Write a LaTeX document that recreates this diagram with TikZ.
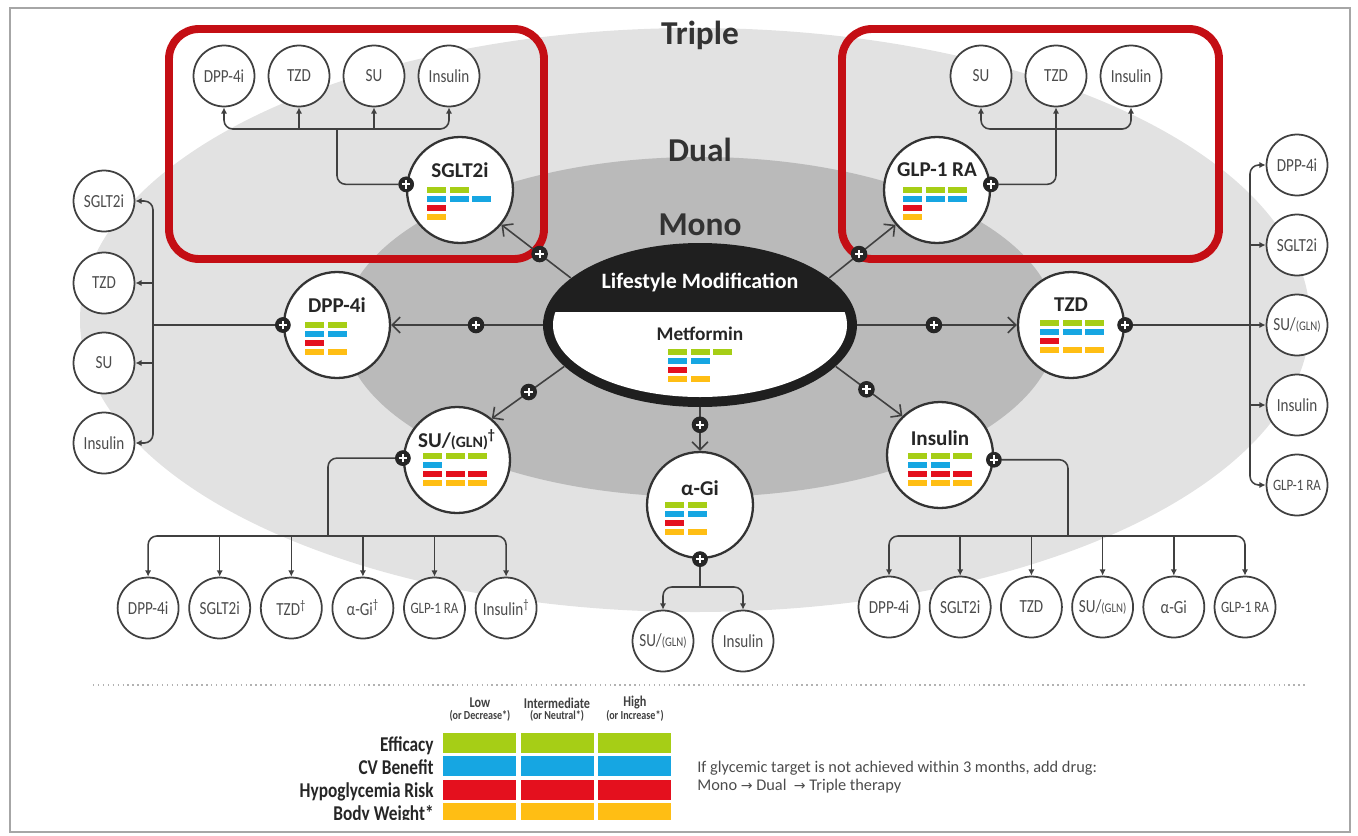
\documentclass[tikz,border=0pt]{standalone}
\usepackage{fontspec}
\setmainfont{Carlito}
\newfontfamily\narrowfont[FakeStretch=0.82]{Carlito}
\newfontfamily\arrowfont{DejaVu Sans}
\usetikzlibrary{shapes.geometric, arrows.meta, calc}

\definecolor{ringlight}{RGB}{226,226,226}
\definecolor{ringmid}{RGB}{186,186,186}
\definecolor{boxred}{RGB}{196,14,20}
\definecolor{effgreen}{RGB}{166,206,22}
\definecolor{cvblue}{RGB}{22,166,226}
\definecolor{hypored}{RGB}{228,16,30}
\definecolor{bwyellow}{RGB}{255,190,20}

% rating bars: x, y, efficacy, cv, hypo, weight
\newcommand{\ratebars}[6]{%
  \foreach \n/\col [count=\r from 0] in {#3/effgreen,#4/cvblue,#5/hypored,#6/bwyellow}
    \foreach \c in {1,...,\n}
      \fill[\col] ({#1+22.5*(\c-1)},{#2+9*\r}) rectangle ++(19,5.5);
}
\newcommand{\sugln}[1]{SU/{\fontsize{#1}{#1}\selectfont(GLN)}}

\tikzset{
  mono/.style={circle, draw=black!80, line width=1.3pt, fill=white, minimum size=2.12cm, inner sep=0pt},
  monolab/.style={font=\bfseries\fontsize{12}{13}\selectfont, text=black!85, inner sep=1pt},
  opt/.style={circle, draw=black!75, line width=1pt, fill=white, minimum size=1.22cm, inner sep=0pt,
    text=black!70, font=\narrowfont\fontsize{10.5}{11}\selectfont},
  plus/.style={circle, fill=black!85, draw=black!85, minimum size=0.3cm, inner sep=0pt,
    path picture={\draw[white, line width=1.2pt, -, sharp corners]
      ([xshift=-0.085cm]path picture bounding box.center) -- ([xshift=0.085cm]path picture bounding box.center)
      ([yshift=-0.085cm]path picture bounding box.center) -- ([yshift=0.085cm]path picture bounding box.center);}},
  link/.style={draw=black!75, line width=0.9pt, rounded corners=5pt},
  branch/.style={link, -{Latex[length=3.5pt,width=3.5pt]}},
  monoarrow/.style={link, -{Straight Barb[length=4.5pt,width=9pt]}},
  tier/.style={font=\bfseries\fontsize{19}{20}\selectfont, text=black!80},
  redbox/.style={draw=boxred, line width=4.5pt, rounded corners=0.6cm},
  lifeshape/.style={ellipse, fill=black!88, minimum width=6.28cm, minimum height=3.28cm, inner sep=0pt},
  hdr/.style={font=\narrowfont\bfseries\fontsize{8.5}{9}\selectfont, text=black!75, inner sep=0pt},
  hdrsub/.style={font=\narrowfont\bfseries\fontsize{7}{7}\selectfont, text=black!75, inner sep=0pt},
  rowlab/.style={font=\narrowfont\bfseries\fontsize{12}{13}\selectfont, text=black!85, anchor=base east, inner sep=0pt},
  note/.style={font=\fontsize{9.3}{11}\selectfont, text=black!70, anchor=base west, inner sep=0pt},
}

\begin{document}
\begin{tikzpicture}[x=0.02cm, y=-0.02cm]
\useasboundingbox (0,0) rectangle (1358,835);

% frame and rings
\draw[black!35, line width=1.2pt] (10,8) rectangle (1350,832);
\fill[ringlight] (695,320) ellipse [x radius=615, y radius=292];
\fill[ringmid] (700,327) ellipse [x radius=357, y radius=170];

\node[tier] (tierT) at (700,35) {Triple};
\node[tier] (tierD) at (700,150) {Dual};
\node[tier] (tierM) at (700,225) {Mono};

% red frames
\draw[redbox] (169,29) rectangle (544,259);
\draw[redbox] (842,29) rectangle (1219,259);

% lifestyle / metformin
\node[lifeshape] (life) at (700,325) {};
\begin{scope}
  \clip (543,312) rectangle (857,410);
  \fill[white] (700,325) ellipse [x radius=147, y radius=72];
\end{scope}
\node[font=\bfseries\fontsize{12.5}{13}\selectfont, text=white] (lifeT) at (700,283) {Lifestyle Modification};
\node[monolab, font=\bfseries\fontsize{11}{12}\selectfont] (metT) at (700,334) {Metformin};
\ratebars{668}{349}{3}{2}{1}{2}

% mono drugs
\node[mono] (sglt) at (460,190) {};
\node[monolab] (sgltT) at (460,170) {SGLT2i};
\ratebars{427}{187}{2}{3}{1}{1}

\node[mono] (glp) at (937,190) {};
\node[monolab] (glpT) at (937,170) {GLP-1 RA};
\ratebars{903}{187}{3}{3}{1}{1}

\node[mono] (dpp) at (337,325) {};
\node[monolab] (dppT) at (337,305) {DPP-4i};
\ratebars{305}{322}{2}{2}{1}{2}

\node[mono] (tzd) at (1071,325) {};
\node[monolab] (tzdT) at (1071,305) {TZD};
\ratebars{1040}{320}{3}{3}{1}{3}

\node[mono] (su) at (457,460) {};
\node[monolab] (suT) at (457,440) {\sugln{9}\textsuperscript{†}};
\ratebars{423}{453}{3}{1}{3}{3}

\node[mono] (agi) at (700,505) {};
\node[monolab] (agiT) at (700,488) {α-Gi};
\ratebars{665}{502}{2}{2}{1}{2}

\node[mono] (ins) at (940,455) {};
\node[monolab] (insT) at (940,438) {Insulin};
\ratebars{908}{453}{3}{2}{3}{3}

% add-on drugs
\foreach \lab [count=\i] in {DPP-4i, TZD, SU, Insulin}
  \node[opt] (lt\i) at ({149+75*\i},76) {\lab};
\foreach \lab [count=\i] in {SU, TZD, Insulin}
  \node[opt] (rt\i) at ({906+75*\i},76) {\lab};
\foreach \lab/\y [count=\i] in {SGLT2i/201, TZD/283, SU/363, Insulin/443}
  \node[opt] (lc\i) at (104,\y) {\lab};
\foreach \lab [count=\i] in {DPP-4i, SGLT2i, {\sugln{7.5}}, Insulin, {\fontsize{9}{9}\selectfont GLP-1 RA}}
  \node[opt] (rc\i) at (1297,{85+80*\i}) {\lab};
\foreach \lab [count=\i] in {DPP-4i, SGLT2i, TZD\textsuperscript{†}, α-Gi\textsuperscript{†}, {\fontsize{9}{9}\selectfont GLP-1 RA}, Insulin\textsuperscript{†}}
  \node[opt] (bl\i) at ({76.5+71.6*\i},608) {\lab};
\foreach \lab [count=\i] in {DPP-4i, SGLT2i, TZD, {\sugln{7.5}}, α-Gi, {\fontsize{9}{9}\selectfont GLP-1 RA}}
  \node[opt] (br\i) at ({817.8+71.2*\i},607) {\lab};
\node[opt] (bm1) at (663,641) {\sugln{7.5}};
\node[opt] (bm2) at (743,641) {Insulin};

% plus markers on the mono drugs
\node[plus] (sgltP) at (sglt.174) {};
\node[plus] (glpP) at (glp.6) {};
\node[plus] (dppP) at (dpp.west) {};
\node[plus] (tzdP) at (tzd.east) {};
\node[plus] (suP) at (su.178) {};
\node[plus] (agiP) at (agi.south) {};
\node[plus] (insP) at (ins.-5) {};

\coordinate (sgltJ) at (337,129);
\coordinate (glpJ) at (1056,129);
\coordinate (dppJ) at (153,325);
\coordinate (tzdJ) at (1250,325);
\coordinate (suJ) at (328,536);
\coordinate (insJ) at (1068,536);
\coordinate (agiJ) at (700,587);

% triple after SGLT2i
\draw[link] (sgltP) -| (sgltJ);
\draw[branch] (sgltJ) -| (lt1);
\draw[branch] (sgltJ) -| (lt4);
\draw[branch] (lt2 |- sgltJ) -- (lt2);
\draw[branch] (lt3 |- sgltJ) -- (lt3);

% triple after GLP-1 RA
\draw[branch] (glpP) -| (rt2);
\draw[branch] (glpJ) -| (rt1);
\draw[branch] (glpJ) -| (rt3);

% dual after DPP-4i
\draw[link] (dppP) -- (dppJ);
\draw[branch] (dppJ) |- (lc1);
\draw[branch] (dppJ) |- (lc4);
\draw[branch] (lc2 -| dppJ) -- (lc2);
\draw[branch] (lc3 -| dppJ) -- (lc3);

% dual after TZD
\draw[branch] (tzdP) -- (rc3);
\draw[branch] (tzdJ) |- (rc1);
\draw[branch] (tzdJ) |- (rc5);
\draw[branch] (rc2 -| tzdJ) -- (rc2);
\draw[branch] (rc4 -| tzdJ) -- (rc4);

% dual after SU
\draw[link] (suP) -| (suJ);
\draw[branch] (suJ) -| (bl1);
\draw[branch] (suJ) -| (bl6);
\foreach \i in {2,...,5}
  \draw[branch] (bl\i |- suJ) -- (bl\i);

% dual after insulin
\draw[link] (insP) -| (insJ);
\draw[branch] (insJ) -| (br1);
\draw[branch] (insJ) -| (br6);
\foreach \i in {2,...,5}
  \draw[branch] (br\i |- insJ) -- (br\i);

% dual after alpha-Gi
\draw[link] (agiP) -- (agiJ);
\draw[branch] (agiJ) -| (bm1);
\draw[branch] (agiJ) -| (bm2);

% mono step
\draw[monoarrow] (life.160) -- node[plus, pos=0.45] (plusS) {} (sglt.-40);
\draw[monoarrow] (life.20) -- node[plus, pos=0.45] (plusG) {} (glp.-140);
\draw[monoarrow] (life.west) -- node[plus, pos=0.44] (plusD) {} (dpp.east);
\draw[monoarrow] (life.east) -- node[plus, pos=0.48] (plusT) {} (tzd.west);
\draw[monoarrow] (life.197) -- node[plus, pos=0.49] (plusU) {} (su.50);
\draw[monoarrow] (life.south) -- node[plus, pos=0.4] (plusA) {} (agi.north);
\draw[monoarrow] (life.-17) -- node[plus, pos=0.46] (plusI) {} (ins.134);

% legend
\draw[black!30, dotted, line width=0.8pt] (93,685) -- (1305,685);
\node[hdr] (lowH) at (480,703) {Low};
\node[hdrsub] (lowS) at (480,716) {(or Decrease*)};
\node[hdr] (midH) at (557,703) {Intermediate};
\node[hdrsub] (midS) at (557,716) {(or Neutral*)};
\node[hdr] (highH) at (635,703) {High};
\node[hdrsub] (highS) at (635,716) {(or Increase*)};
\begin{scope}
  \clip (280,725) rectangle (700,819);
  \foreach \col [count=\r from 0] in {effgreen,cvblue,hypored,bwyellow}
    \foreach \c in {0,1,2}
      \fill[\col] ({443+77.5*\c},{733+23.3*\r}) rectangle ++(73,20);
  \node[rowlab] (effL) at (434,751) {Efficacy};
  \node[rowlab] (cvL) at (434,774) {CV Benefit};
  \node[rowlab] (hypoL) at (434,797) {Hypoglycemia Risk};
  \node[rowlab] (bwL) at (434,820) {Body Weight*};
\end{scope}
\node[note] (noteA) at (697,772) {If glycemic target is not achieved within 3 months, add drug:};
\node[note] (noteB) at (697,790) {Mono {\arrowfont\fontsize{8}{9}\selectfont→} Dual \ {\arrowfont\fontsize{8}{9}\selectfont→} Triple therapy};

\end{tikzpicture}
\end{document}
